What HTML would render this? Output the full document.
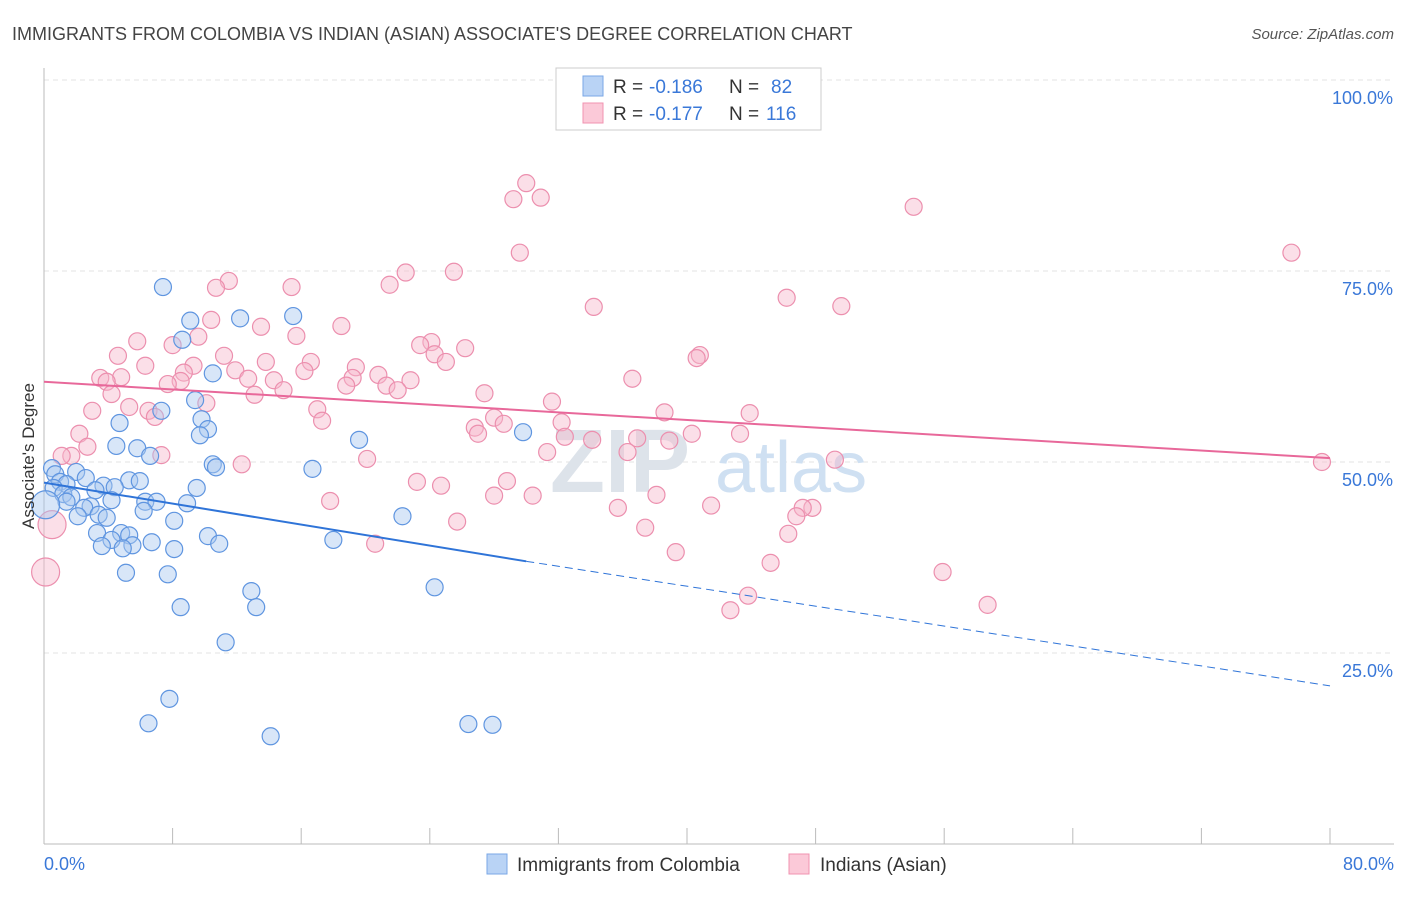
<!DOCTYPE html>
<html><head><meta charset="utf-8"><style>
body{margin:0;background:#fff;font-family:"Liberation Sans",sans-serif;}
svg text{font-family:"Liberation Sans",sans-serif;}
</style></head><body>
<svg id="chart" width="1406" height="892" xmlns="http://www.w3.org/2000/svg">
<text x="12" y="40" font-size="18" fill="#444">IMMIGRANTS FROM COLOMBIA VS INDIAN (ASIAN) ASSOCIATE'S DEGREE CORRELATION CHART</text>
<text x="1394" y="39" font-size="15" fill="#555" text-anchor="end" font-style="italic">Source: ZipAtlas.com</text>
<g id="grid"></g>
<text x="550" y="492" font-size="90" fill="#dde3ea" font-family="Liberation Serif" font-weight="bold">ZIP</text>
<text x="715" y="492" font-size="72" fill="#cfe0f2">atlas</text>
<g id="points"></g>
<g id="lines"></g>
<text transform="translate(34,456) rotate(-90)" font-size="17" fill="#333" text-anchor="middle">Associate's Degree</text>
<text x="44" y="870" font-size="18" fill="#3a78d8">0.0%</text>
<text x="1394" y="870" font-size="18" fill="#3a78d8" text-anchor="end">80.0%</text>
<g>
<rect x="556" y="68" width="265" height="62" fill="#fff" stroke="#ccc"/>
<rect x="583" y="76" width="20" height="20" fill="#b9d3f5" stroke="#7aa7e6"/>
<rect x="583" y="103" width="20" height="20" fill="#fbc9d8" stroke="#f093b0"/>
<text x="613" y="93" font-size="19" fill="#333">R =</text>
<text x="649" y="93" font-size="19" fill="#3a78d8">-0.186</text>
<text x="729" y="93" font-size="19" fill="#333">N =</text>
<text x="771" y="93" font-size="19" fill="#3a78d8">82</text>
<text x="613" y="120" font-size="19" fill="#333">R =</text>
<text x="649" y="120" font-size="19" fill="#3a78d8">-0.177</text>
<text x="729" y="120" font-size="19" fill="#333">N =</text>
<text x="766" y="120" font-size="19" fill="#3a78d8">116</text>
</g>
<g>
<rect x="487" y="854" width="20" height="20" fill="#b9d3f5" stroke="#7aa7e6"/>
<text x="517" y="871" font-size="19" fill="#333">Immigrants from Colombia</text>
<rect x="789" y="854" width="20" height="20" fill="#fbc9d8" stroke="#f093b0"/>
<text x="820" y="871" font-size="19" fill="#333">Indians (Asian)</text>
</g>
</svg>
<script>
const yTicks=[25,50,75,100];
const yTickLabels=["25.0%","50.0%","75.0%","100.0%"];
const xTicks=[0,8,16,24,32,40,48,56,64,72,80];
const blueX=[7.4,15.5,12.2,9.1,8.6,10.5,9.4,7.3,9.8,4.7,10.2,9.7,19.6,29.8,4.5,5.8,6.6,10.5,10.7,16.7,0.5,0.7,2.0,2.6,1.0,1.4,0.6,5.3,5.96,3.7,3.2,4.4,9.5,1.2,1.7,4.2,6.3,7.0,8.9,1.4,2.9,2.5,3.4,2.1,6.2,8.1,3.9,22.3,3.3,4.8,5.3,10.2,4.2,6.7,18.0,3.6,5.5,10.9,8.1,4.9,5.1,7.7,12.9,24.3,8.5,13.2,11.3,7.8,6.5,26.4,27.9,14.1,0.1];
const blueY=[72.9,69.1,68.8,68.5,66.0,61.6,58.1,56.7,55.6,55.1,54.3,53.5,52.9,53.9,52.1,51.8,50.8,49.7,49.3,49.1,49.2,48.4,48.7,47.9,47.4,47.1,46.6,47.6,47.5,46.9,46.3,46.7,46.6,45.8,45.4,45.0,44.8,44.8,44.6,44.8,44.2,44.0,43.1,42.9,43.6,42.3,42.7,42.9,40.7,40.7,40.4,40.3,39.8,39.5,39.8,39.0,39.1,39.3,38.6,38.7,35.5,35.3,33.1,33.6,31.0,31.0,26.4,19.0,15.8,15.7,15.6,14.1,44.4];
const pinkX=[30.0,30.9,29.2,54.1,29.6,77.6,22.5,25.5,11.5,10.7,21.5,15.4,46.2,49.6,34.2,10.4,13.5,18.5,15.7,5.8,9.6,8.0,24.1,23.4,26.2,24.3,11.2,4.6,40.8,40.6,6.3,16.6,25.0,13.8,11.9,9.3,16.2,19.4,8.7,20.8,4.8,3.5,3.9,19.2,14.3,22.8,36.6,8.5,7.7,12.7,21.3,22.0,18.8,14.9,4.2,13.1,27.4,10.1,31.6,5.3,17.0,3.0,6.5,38.6,43.9,6.9,17.3,28.0,28.6,32.2,26.8,2.2,27.0,40.3,43.3,32.4,36.9,34.1,38.9,2.7,31.3,36.3,1.7,7.3,20.1,49.2,12.3,79.5,23.2,24.7,28.8,38.1,28.0,30.4,17.8,41.5,35.7,47.8,47.2,46.8,25.7,37.4,46.3,20.6,39.3,45.2,55.9,43.8,58.7,42.7,0.5,0.1,1.1];
const pinkY=[86.5,84.6,84.4,83.4,77.4,77.4,74.8,74.9,73.7,72.8,73.2,72.9,71.5,70.4,70.3,68.6,67.7,67.8,66.5,65.8,66.4,65.3,65.7,65.3,64.9,64.1,63.9,63.9,64.0,63.6,62.6,63.1,63.1,63.1,62.0,62.6,61.9,62.4,61.7,61.4,61.1,61.0,60.5,61.0,60.7,60.7,60.9,60.6,60.2,60.9,60.0,59.4,60.0,59.4,58.9,58.8,59.0,57.7,57.9,57.2,56.9,56.7,56.7,56.5,56.4,55.9,55.4,55.8,55.0,55.2,54.5,53.7,53.7,53.7,53.7,53.3,53.1,52.9,52.8,52.0,51.3,51.3,50.8,50.9,50.4,50.3,49.7,50.0,47.4,46.9,47.5,45.7,45.6,45.6,44.9,44.3,44.0,44.0,44.0,42.9,42.2,41.4,40.6,39.3,38.2,36.8,35.6,32.5,31.3,30.6,41.8,35.6,50.8];
const blueTrend=[47.3,37.0,20.7];
const blueTrendX=[0,30,80];
const pinkTrend=[60.5,50.5];
const pinkTrendX=[0,80];

const NS="http://www.w3.org/2000/svg";
const X=v=>44+v/80*1286;
const Y=v=>844-v/100*764;
function mk(tag,attrs,parent){const e=document.createElementNS(NS,tag);for(const k in attrs)e.setAttribute(k,attrs[k]);parent.appendChild(e);return e;}
const grid=document.getElementById('grid');
yTicks.forEach((t,i)=>{
 const l=mk('line',{x1:44,x2:1394,y1:Y(t),y2:Y(t),stroke:'#e3e3e3','stroke-dasharray':'5,4'},grid);
 
 
 const tx=mk('text',{x:1393,y:Y(t)+24,'font-size':18,fill:'#3a78d8','text-anchor':'end'},grid);
 tx.textContent=yTickLabels[i];
 
 
});
const ax=mk('line',{x1:44,x2:1394,y1:844,y2:844,stroke:'#bbb'},grid);


const ay=mk('line',{x1:44,x2:44,y1:68,y2:844,stroke:'#bbb'},grid);


xTicks.forEach(t=>{
 const l=mk('line',{x1:X(t),x2:X(t),y1:828,y2:844,stroke:'#bbb'},grid);
 
 
});
const pts=document.getElementById('points');
function dots(xs,ys,fill,stroke,name){
 xs.forEach((x,i)=>{
  const big=(x<0.6&&(ys[i]<46&&ys[i]>30));
  const c=mk('circle',{cx:X(x),cy:Y(ys[i]),r:big?14:8.5,fill:fill,'fill-opacity':0.45,stroke:stroke,'stroke-width':1.2},pts);
  
  
 });
}
dots(pinkX,pinkY,'#f7b8cb','#ec8fae','point-indians-asian');
dots(blueX,blueY,'#a9c8f0','#5f95e0','point-colombia');
const lines=document.getElementById('lines');
const b1=mk('line',{x1:X(blueTrendX[0]),y1:Y(blueTrend[0]),x2:X(blueTrendX[1]),y2:Y(blueTrend[1]),stroke:'#2f74d8','stroke-width':2},lines);


const b2=mk('line',{x1:X(blueTrendX[1]),y1:Y(blueTrend[1]),x2:X(blueTrendX[2]),y2:Y(blueTrend[2]),stroke:'#2f74d8','stroke-width':1,'stroke-dasharray':'8,5'},lines);


const p1=mk('line',{x1:X(pinkTrendX[0]),y1:Y(pinkTrend[0]),x2:X(pinkTrendX[1]),y2:Y(pinkTrend[1]),stroke:'#e8689a','stroke-width':2},lines);


</script>
</body></html>
